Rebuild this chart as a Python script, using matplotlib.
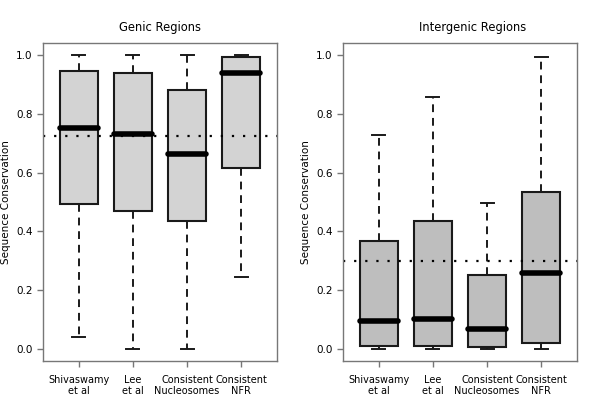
import matplotlib
matplotlib.use("Agg")
import matplotlib.pyplot as plt

labels = ["Shivaswamy\net al", "Lee\net al", "Consistent\nNucleosomes", "Consistent\nNFR"]

# genic regions: whisker low, q1, median, q3, whisker high
genic_low = [0.041, 0.0, 0.0, 0.247]
genic_q1 = [0.493, 0.469, 0.434, 0.617]
genic_med = [0.750, 0.730, 0.664, 0.937]
genic_q3 = [0.944, 0.939, 0.882, 0.991]
genic_high = [1.0, 1.0, 1.0, 1.0]
genic_ref = 0.7225

# intergenic regions
inter_low = [0.0, 0.0, 0.0, 0.0]
inter_q1 = [0.010, 0.010, 0.008, 0.0215]
inter_med = [0.095, 0.102, 0.069, 0.260]
inter_q3 = [0.369, 0.435, 0.251, 0.533]
inter_high = [0.726, 0.855, 0.495, 0.993]
inter_ref = 0.300


def draw_panel(ax, low, q1, med, q3, high, ref, fill, title, title_x):
    stats = []
    for i in range(len(labels)):
        stats.append(dict(whislo=low[i], q1=q1[i], med=med[i], q3=q3[i],
                          whishi=high[i], fliers=[]))
    ax.bxp(stats, positions=range(1, 5), widths=0.71, capwidths=0.24,
           showfliers=False, patch_artist=True,
           boxprops=dict(facecolor=fill, edgecolor="#1a1a1a", linewidth=1.5),
           whiskerprops=dict(color="#1a1a1a", linewidth=1.4, linestyle=(0, (4, 3))),
           capprops=dict(color="#1a1a1a", linewidth=1.4),
           medianprops=dict(color="black", linewidth=4, solid_capstyle="round"))
    ax.axhline(ref, color="black", linestyle=(0, (1, 4)), linewidth=1.6)
    ax.set_xlim(0.34, 4.66)
    ax.set_ylim(-0.04, 1.04)
    ax.set_yticks([0.0, 0.2, 0.4, 0.6, 0.8, 1.0])
    ax.set_yticklabels(["0.0", "0.2", "0.4", "0.6", "0.8", "1.0"])
    ax.set_xticks(range(1, 5))
    ax.set_xticklabels(labels)
    ax.tick_params(colors="#777777", labelcolor="black", labelsize=7.5, length=4, width=1)
    ax.tick_params(axis="x", labelsize=7, pad=6)
    for s in ax.spines.values():
        s.set_color("#777777")
        s.set_linewidth(1)
    ax.set_ylabel("Sequence Conservation", fontsize=7.5)
    ax.set_title(title, fontsize=8.3, pad=9, x=title_x)


fig = plt.figure(figsize=(6, 4.16), dpi=100)
ax1 = fig.add_axes([0.0717, 0.1322, 0.39, 0.7644])
ax2 = fig.add_axes([0.5717, 0.1322, 0.39, 0.7644])

draw_panel(ax1, genic_low, genic_q1, genic_med, genic_q3, genic_high, genic_ref,
           "#d3d3d3", "Genic Regions", 0.5)
draw_panel(ax2, inter_low, inter_q1, inter_med, inter_q3, inter_high, inter_ref,
           "#bebebe", "Intergenic Regions", 0.556)

fig.savefig("out.png", dpi=100)
